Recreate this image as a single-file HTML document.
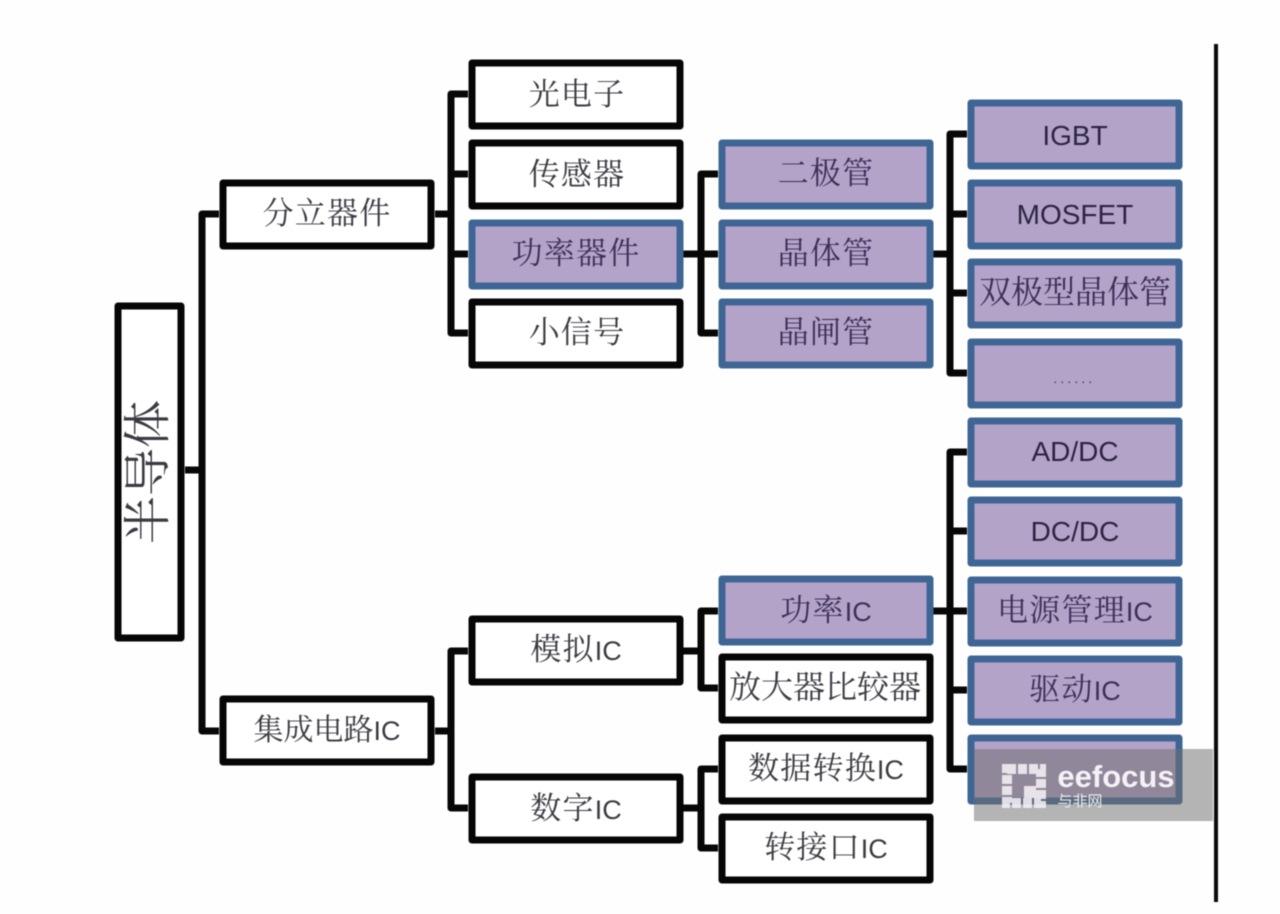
<!DOCTYPE html>
<html lang="zh">
<head>
<meta charset="utf-8">
<title>半导体分类</title>
<style>
html,body{margin:0;padding:0;background:#fefefe;width:1280px;height:914px;overflow:hidden}
svg{display:block}
text{font-family:"Liberation Serif","Noto Serif CJK SC",serif;text-anchor:middle;fill:#3a3a42;font-size:31px;letter-spacing:1.2px}
tspan{font-family:"Liberation Sans",sans-serif;font-size:27px;letter-spacing:0}
.s{font-family:"Liberation Sans","Noto Sans CJK SC",sans-serif;font-size:28px;fill:#2b2440;letter-spacing:0}
.p{fill:#3a2f58}
.k{fill:none;stroke:#070707;stroke-width:7;stroke-linejoin:round}
.w{fill:#fff;stroke:#060606;stroke-width:7;stroke-linejoin:round}
.b{fill:#b4a3c9;stroke:#3f6595;stroke-width:7;stroke-linejoin:round}
.blur{filter:blur(.6px)}
</style>
</head>
<body>
<svg width="1280" height="914" viewBox="0 0 1280 914" xmlns="http://www.w3.org/2000/svg">
<g class="blur">
<g class="k">
<path d="M185 470H202M219 214H202V731H219"/>
<path d="M435 214H451M468 94H451V333H468M451 174H468M451 254H468"/>
<path d="M683 254H718M718 174H701V333H718"/>
<path d="M933 254H950M967 134H950V373H967M950 214H967M950 293H967"/>
<path d="M933 611H950M967 452H950V769H967M950 531H967M950 611H967M950 690H967"/>
<path d="M435 731H451M468 651H451V808H468"/>
<path d="M683 651H701M718 611H701V688H718"/>
<path d="M683 808H701M718 769H701V848H718"/>
</g>
<rect x="1214" y="44" width="4" height="858" fill="#0a0a0a"/>

<rect class="w" x="118" y="306" width="63" height="332"/>
<rect class="w" x="223" y="183" width="208" height="63"/>
<rect class="w" x="223" y="699" width="208" height="63"/>
<rect class="w" x="472" y="63" width="208" height="63"/>
<rect class="w" x="472" y="143" width="208" height="63"/>
<rect class="b" x="472" y="223" width="208" height="63"/>
<rect class="w" x="472" y="302" width="208" height="63"/>
<rect class="w" x="472" y="619" width="208" height="63"/>
<rect class="w" x="472" y="777" width="208" height="63"/>

<rect class="b" x="722" y="143" width="208" height="63"/>
<rect class="b" x="722" y="223" width="208" height="63"/>
<rect class="b" x="722" y="302" width="208" height="63"/>
<rect class="b" x="722" y="579" width="208" height="63"/>
<rect class="w" x="722" y="657" width="208" height="63"/>
<rect class="w" x="722" y="738" width="208" height="63"/>
<rect class="w" x="722" y="817" width="208" height="63"/>

<rect class="b" x="971" y="103" width="208" height="63"/>
<rect class="b" x="971" y="183" width="208" height="63"/>
<rect class="b" x="971" y="262" width="208" height="63"/>
<rect class="b" x="971" y="342" width="208" height="63"/>
<rect class="b" x="971" y="421" width="208" height="63"/>
<rect class="b" x="971" y="500" width="208" height="63"/>
<rect class="b" x="971" y="580" width="208" height="63"/>
<rect class="b" x="971" y="659" width="208" height="63"/>
<rect class="b" x="971" y="738" width="208" height="63"/>

<text transform="translate(164 472) rotate(-90)" style="font-size:48px;letter-spacing:0">半导体</text>
<text x="327" y="224">分立器件</text>
<text x="327" y="740" style="font-size:30px;letter-spacing:0">集成电路<tspan>IC</tspan></text>
<text x="577" y="105">光电子</text>
<text x="577" y="185">传感器</text>
<text x="576" y="264" class="p">功率器件</text>
<text x="577" y="343">小信号</text>
<text x="576" y="660">模拟<tspan>IC</tspan></text>
<text x="576" y="819">数字<tspan>IC</tspan></text>
<text x="826" y="184" class="p">二极管</text>
<text x="826" y="264" class="p">晶体管</text>
<text x="826" y="343" class="p">晶闸管</text>
<text x="826" y="621" class="p">功率<tspan>IC</tspan></text>
<text x="825" y="698" style="font-size:32px;letter-spacing:0">放大器比较器</text>
<text x="826" y="779">数据转换<tspan>IC</tspan></text>
<text x="826" y="858">转接口<tspan>IC</tspan></text>
<text x="1075" y="145" class="s">IGBT</text>
<text x="1075" y="224" class="s">MOSFET</text>
<text x="1075" y="303" class="p" style="font-size:32px;letter-spacing:0">双极型晶体管</text>
<text x="1075" y="383" style="font-family:'Liberation Sans',sans-serif;font-size:9px;font-weight:bold;letter-spacing:4.5px;fill:#33284f">......</text>
<text x="1075" y="461" class="s">AD/DC</text>
<text x="1075" y="541" class="s">DC/DC</text>
<text x="1075" y="621" class="p">电源管理<tspan>IC</tspan></text>
<text x="1075" y="700" class="p">驱动<tspan>IC</tspan></text>

<rect x="974" y="749" width="239" height="72" fill="#6f6f6f" opacity=".52"/>
<rect x="1007" y="769" width="34" height="34" fill="none" stroke="#f4eff4" stroke-width="10" stroke-dasharray="9 2" opacity=".88"/>
<rect x="1024" y="786" width="12" height="12" fill="#f4eff4" opacity=".88"/>
<text x="1116" y="787" style="font-family:'Liberation Sans',sans-serif;font-size:31px;font-weight:bold;fill:#f6f1f6;letter-spacing:0">eefocus</text>
<text x="1080" y="806" style="font-family:'Liberation Sans','Noto Sans CJK SC',sans-serif;font-size:15px;fill:#eee;letter-spacing:0">与非网</text>
</g>
</svg>
</body>
</html>
